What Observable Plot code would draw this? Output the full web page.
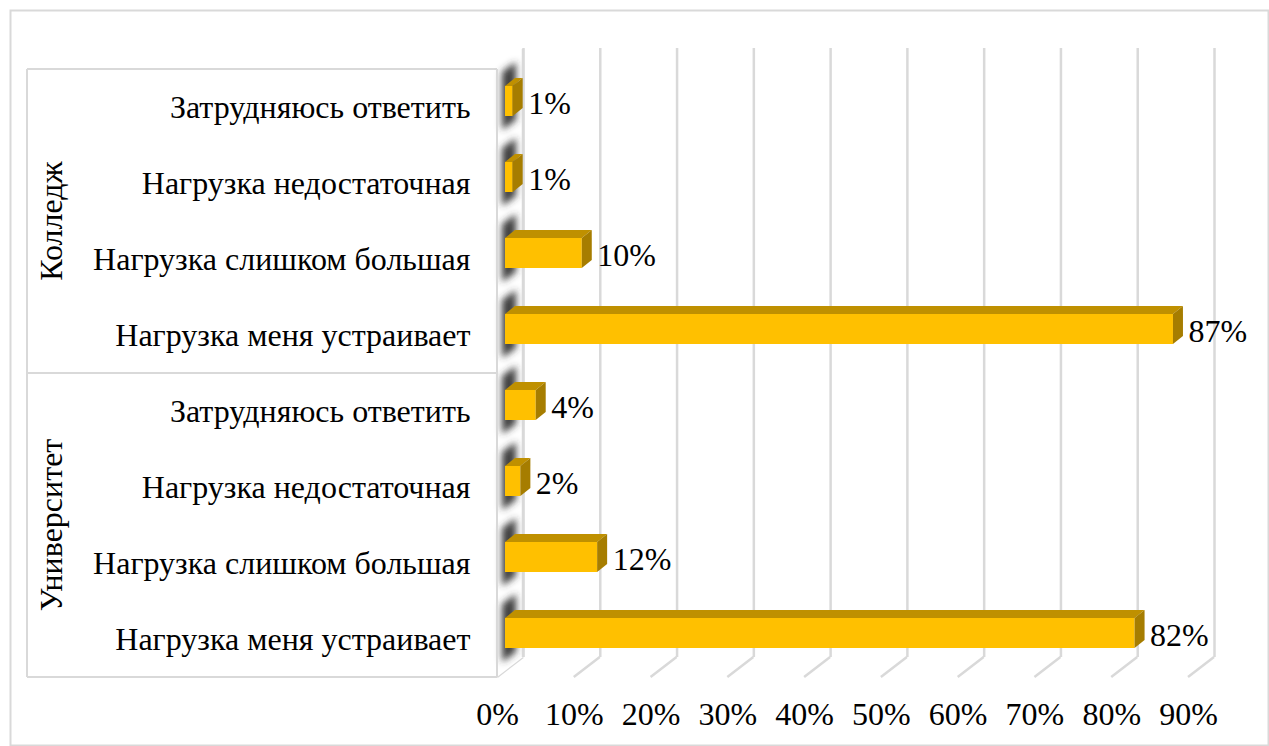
<!DOCTYPE html>
<html><head><meta charset="utf-8">
<script src="https://cdn.jsdelivr.net/npm/d3@7"></script>
<script src="https://cdn.jsdelivr.net/npm/@observablehq/plot@0.6"></script>
<style>body{margin:0;background:#fff} #chart{width:1269px;height:746px} svg text{font-family:"Liberation Serif","DejaVu Serif",Times,serif !important;}</style>
</head><body><div id="chart"></div>
<script>
const groups = ["Колледж", "Университет"];
const answers = ["Затрудняюсь ответить", "Нагрузка недостаточная", "Нагрузка слишком большая", "Нагрузка меня устраивает"];
const collegeValues = [1, 1, 10, 87];
const universityValues = [4, 2, 12, 82];
const xTicks = [0, 10, 20, 30, 40, 50, 60, 70, 80, 90];

const data = [];
groups.forEach((g, gi) => {
  const vals = gi === 0 ? collegeValues : universityValues;
  answers.forEach((a, ai) => data.push({group: g, answer: a, key: g + "|" + a, value: vals[ai]}));
});
const keys = data.map(d => d.key);

const W = 1269, H = 746;
const FONT = "Liberation Serif, DejaVu Serif, Times, serif";
const FS = 32;
const DEPTH_X = 26, DEPTH_Y = -20;   // floor depth
const BAR_OFF_X = 8, BAR_OFF_Y = -6; // bar front plane offset
const BAR_D_X = 10, BAR_D_Y = -8;    // bar thickness
const INSET = 23;
const GRID = "#D9D9D9";

const chart = Plot.plot({
  width: W, height: H,
  marginLeft: 497, marginRight: 81, marginTop: 68, marginBottom: 69,
  style: {fontFamily: FONT, fontSize: FS + "px", color: "#000", background: "transparent", overflow: "visible"},
  x: {domain: [0, 90], label: null},
  y: {domain: keys, padding: 0, label: null},
  marks: [
    Plot.ruleX(xTicks, {dx: DEPTH_X, dy: DEPTH_Y, stroke: GRID, strokeWidth: 2.5}),
    Plot.barX(data, {x: "value", y: "key", fill: "#FFC000", dx: BAR_OFF_X, dy: BAR_OFF_Y, insetTop: INSET, insetBottom: INSET}),
    Plot.text(data, {x: "value", y: "key", text: d => d.value + "%", textAnchor: "start", dx: 23, dy: -4, fontSize: FS, fill: "#000"}),
    Plot.axisX({ticks: xTicks, tickFormat: d => d + "%", tickSize: 0, tickPadding: 25, fontSize: FS, label: null}),
    Plot.axisY({tickSize: 0, tickPadding: 27, fontSize: FS, label: null, tickFormat: k => k.split("|")[1]})
  ]
});

document.getElementById("chart").appendChild(chart);

const xs = chart.scale("x"), ys = chart.scale("y");
const svg = d3.select(chart);
const bw = ys.bandwidth;
const x0f = xs.apply(0);
const yTopF = ys.apply(keys[0]);
const yBotF = ys.apply(keys[keys.length - 1]) + bw;

const defs = svg.append("defs");
defs.append("filter").attr("id", "blur").attr("x", "-100%").attr("y", "-50%").attr("width", "300%").attr("height", "200%")
  .append("feGaussianBlur").attr("stdDeviation", 3.5);

svg.insert("rect", ":first-child").attr("x", 10.5).attr("y", 10.5).attr("width", W - 11).attr("height", H - 11)
  .attr("fill", "#fff").attr("stroke", "#D9D9D9").attr("stroke-width", 2);

const under = svg.insert("g", 'g[aria-label="bar"]');
const poly = pts => pts.map(p => p.join(",")).join(" ");

xTicks.forEach(t => {
  const xf = xs.apply(t);
  under.append("line").attr("x1", xf).attr("y1", yBotF).attr("x2", xf + DEPTH_X).attr("y2", yBotF + DEPTH_Y)
    .attr("stroke", GRID).attr("stroke-width", 2.5);
});
under.append("polygon").attr("points", poly([[x0f, yTopF], [x0f + DEPTH_X, yTopF + DEPTH_Y], [x0f + DEPTH_X, yBotF + DEPTH_Y], [x0f, yBotF]]))
  .attr("fill", "#fff").attr("stroke", "none");
const shadowG = under.append("g").attr("filter", "url(#blur)");
data.forEach(d => {
  const yt = ys.apply(d.key) + INSET + BAR_OFF_Y;
  const yb = ys.apply(d.key) + bw - INSET + BAR_OFF_Y;
  const xa = x0f + 5, xb = x0f + 19;
  shadowG.append("polygon").attr("points", poly([[xa, yt - 14], [xb, yt - 24], [xb, yb + 4], [xa, yb + 14]]))
    .attr("fill", "#333").attr("opacity", 0.95);
});
under.append("line").attr("x1", x0f).attr("y1", yTopF).attr("x2", x0f).attr("y2", yBotF).attr("stroke", GRID).attr("stroke-width", 2);
under.append("line").attr("x1", x0f + DEPTH_X).attr("y1", yTopF + DEPTH_Y).attr("x2", x0f + DEPTH_X).attr("y2", yBotF + DEPTH_Y).attr("stroke", GRID).attr("stroke-width", 2.5);

const gLeft = 27;
const frame = svg.insert("g", ":first-child");
svg.node().insertBefore(frame.node(), under.node());
const groupBounds = groups.map((g, gi) => [ys.apply(keys[gi * 4]), ys.apply(keys[gi * 4 + 3]) + bw]);
[yTopF, groupBounds[0][1], yBotF].forEach(y => {
  frame.append("line").attr("x1", gLeft).attr("x2", x0f).attr("y1", y).attr("y2", y).attr("stroke", GRID).attr("stroke-width", 2);
});
frame.append("line").attr("x1", gLeft).attr("x2", gLeft).attr("y1", yTopF).attr("y2", yBotF).attr("stroke", GRID).attr("stroke-width", 2);
groups.forEach((g, gi) => {
  const yc = (groupBounds[gi][0] + groupBounds[gi][1]) / 2;
  svg.append("text").attr("transform", `translate(51,${yc}) rotate(-90)`).attr("text-anchor", "middle")
    .attr("dominant-baseline", "central").attr("font-family", FONT).attr("font-size", FS).attr("fill", "#000").text(g);
});

const faces = svg.insert("g", 'g[aria-label="text"]');
data.forEach(d => {
  const xa = xs.apply(0) + BAR_OFF_X, xb = xs.apply(d.value) + BAR_OFF_X;
  const yt = ys.apply(d.key) + INSET + BAR_OFF_Y;
  const yb = ys.apply(d.key) + bw - INSET + BAR_OFF_Y;
  faces.append("polygon").attr("points", poly([[xa, yt], [xb, yt], [xb + BAR_D_X, yt + BAR_D_Y], [xa + BAR_D_X, yt + BAR_D_Y]]))
    .attr("fill", "#BF9000");
  faces.append("polygon").attr("points", poly([[xb, yt], [xb + BAR_D_X, yt + BAR_D_Y], [xb + BAR_D_X, yb + BAR_D_Y], [xb, yb]]))
    .attr("fill", "#A67D00");
});
</script>
</body></html>
